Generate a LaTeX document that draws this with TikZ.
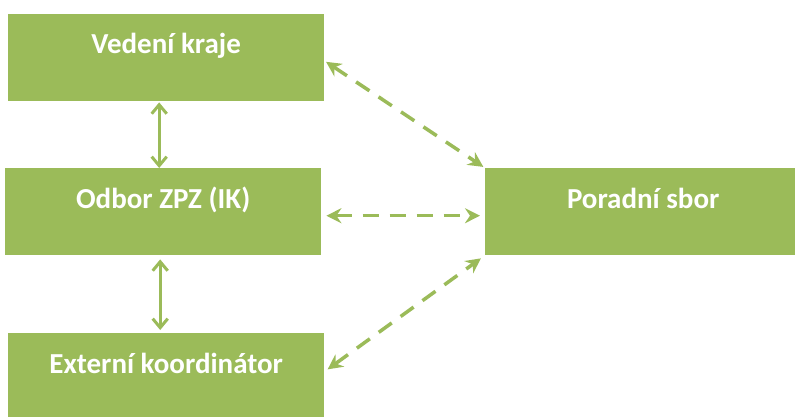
\documentclass[tikz,border=0pt]{standalone}
\usepackage{fontspec}
\setmainfont{Carlito}
\usetikzlibrary{arrows.meta}
\definecolor{og}{HTML}{9BBB59}
\tikzset{
  box/.style={fill=og, draw=none, minimum width=316pt, minimum height=87pt, inner sep=0pt, anchor=north west},
  lbl/.style={text=white, font=\fontsize{29}{34}\selectfont\bfseries, anchor=base, inner sep=0pt},
  solidarr/.style={draw=og, line width=3pt, {Straight Barb[length=9pt,width=15pt,line width=3pt]}-{Straight Barb[length=9pt,width=15pt,line width=3pt]}},
  dasharr/.style={draw=og, line width=3.5pt, dash pattern=on 16pt off 11pt, {Stealth[length=15pt,width=15pt,inset=5pt]}-{Stealth[length=15pt,width=15pt,inset=5pt]}}
}
\begin{document}
\begin{tikzpicture}[x=1pt,y=-1pt]
\useasboundingbox (0,0) rectangle (795,416);
\node[box] (a) at (8,14) {};
\node[box] (b) at (5,168) {};
\node[box] (c) at (8,333) {};
\node[box] (d) at (485,168) {};
\node[lbl] (at) at ([yshift=-39pt]a.north) {Vedení kraje};
\node[lbl] (bt) at ([yshift=-40pt]b.north) {Odbor ZPZ (IK)};
\node[lbl] (ct) at ([yshift=-40pt]c.north) {Externí koordinátor};
\node[lbl] (dt) at ([yshift=-40pt]d.north) {Poradní sbor};
\draw[solidarr, shorten <=1pt] ([xshift=-7pt]a.south) -- ([xshift=-4pt]b.north);
\draw[solidarr, shorten <=4pt, shorten >=3pt] ([xshift=-3pt]b.south) -- ([xshift=-6pt]c.north);
\draw[dasharr, shorten <=2pt, shorten >=2pt] ([yshift=-3pt]a.east) -- (d.north west);
\draw[dasharr, shorten <=5pt, shorten >=5pt] ([yshift=-4pt]b.east) -- ([yshift=-4pt]d.west);
\draw[dasharr, shorten <=4pt, shorten >=5pt] ([yshift=5pt]c.east) -- (d.south west);
\end{tikzpicture}
\end{document}
